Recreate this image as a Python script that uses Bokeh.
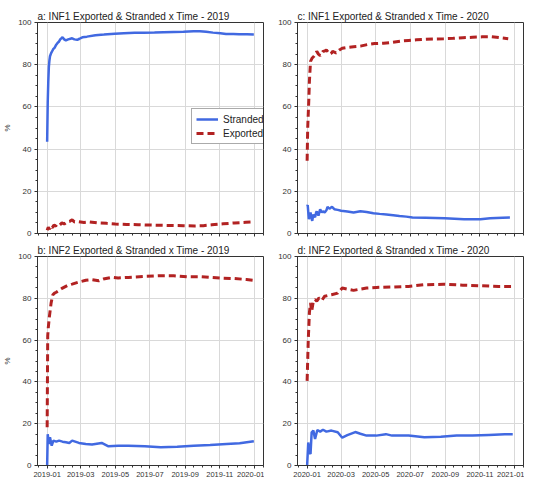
import pandas as pd
from bokeh.plotting import figure
from bokeh.layouts import column, row
from bokeh.models import (Range1d, FixedTicker, SingleIntervalTicker,
                          DatetimeTickFormatter, CustomJSTickFormatter,
                          Legend, LegendItem)
from bokeh.embed import file_html
from bokeh.resources import INLINE

FONT = "Liberation Sans"
BLUE = "royalblue"
RED = "firebrick"

# ---------------- data (day offset from Jan 1 of the year, percent) -------------
# a: INF1 2019
a_str_days = [0, 1, 2, 3, 4, 5, 7, 9, 11, 13, 16, 18, 21, 23, 25, 27, 30, 33, 37, 41,
              44, 48, 53, 57, 62, 70, 85, 100, 119, 135, 154, 170, 189, 205, 223, 240,
              258, 269, 280, 292, 305, 315, 328, 338, 352, 364]
a_str_vals = [43.5, 62, 72, 79, 82, 84, 85.5, 86.5, 87.5, 88, 89.5, 90.2, 91, 92, 92.5,
              93, 92, 91.5, 92, 92.3, 92.5, 92, 91.8, 92.3, 93, 93.3, 94, 94.3, 94.7,
              94.9, 95.1, 95.2, 95.3, 95.4, 95.5, 95.6, 95.8, 95.8, 95.6, 95.2, 94.9,
              94.6, 94.5, 94.4, 94.4, 94.3]
a_exp_days = [0, 2, 4, 6, 9, 12, 15, 18, 22, 26, 30, 35, 40, 44, 48, 55, 65, 75, 90,
              105, 120, 140, 160, 180, 200, 220, 240, 260, 275, 290, 310, 330, 350, 364]
a_exp_vals = [1.5, 3, 2, 3.5, 2.8, 4, 3.5, 4.5, 4, 5, 4.5, 5.5, 5.8, 6.5, 5.5, 5.6, 5.2,
              5.5, 5.0, 4.8, 4.5, 4.3, 4.2, 4.0, 3.9, 3.8, 3.7, 3.6, 3.7, 4.1, 4.6, 5.0,
              5.3, 5.5]

# c: INF1 2020
c_str_days = [0, 1, 3, 5, 6, 8, 9, 11, 12, 14, 16, 17, 20, 22, 23, 26, 28, 31, 34, 36,
              38, 40, 42, 44, 48, 54, 60, 71, 82, 94, 105, 117, 128, 140, 152, 163, 175,
              186, 209, 243, 277, 306, 323, 345, 358]
c_str_vals = [13, 13.5, 6.8, 9, 10, 7, 6, 9, 8.5, 7.7, 10, 10.5, 8.5, 10.5, 11.5, 10,
              10.5, 10, 11, 12.6, 12, 11.8, 12.3, 12.6, 11.5, 11.2, 10.8, 10.4, 10, 10.5,
              10.2, 9.6, 9.3, 9, 8.7, 8.3, 8, 7.6, 7.5, 7.2, 6.8, 6.8, 7.2, 7.5, 7.6]
c_exp_days = [0, 1, 3, 4, 6, 9, 12, 14, 17, 20, 23, 26, 28, 31, 34, 37, 40, 43, 45, 48,
              51, 54, 57, 62, 71, 82, 94, 106, 119, 135, 150, 165, 179, 193, 207, 224,
              241, 258, 275, 292, 309, 326, 343, 355]
c_exp_vals = [34.5, 50, 63.5, 72, 81.6, 83.2, 84, 84.7, 86.3, 85, 84.3, 85.5, 86.3, 86.5,
              87, 86, 85, 85.5, 86.3, 86, 85.5, 86.3, 87, 87.8, 88.2, 88.5, 88.8, 89.5,
              90, 90.2, 90.6, 91.2, 91.5, 91.8, 92, 92.2, 92.3, 92.5, 92.8, 93, 93.2,
              93.2, 92.7, 92.3]

# b: INF2 2019
b_str_days = [0, 1, 3, 5, 8, 11, 16, 21, 27, 33, 39, 44, 56, 68, 79, 96, 108, 125, 143,
              172, 200, 229, 258, 287, 316, 339, 364]
b_str_vals = [0, 15, 10.3, 13.5, 9.5, 11.9, 11.4, 11.9, 11.4, 11.1, 10.8, 11.9, 10.8,
              10.3, 10, 10.8, 9.2, 9.5, 9.5, 9.2, 8.7, 9, 9.5, 9.8, 10.3, 10.6, 11.6]
b_exp_days = [0, 1, 2, 4, 7, 10, 13, 16, 21, 27, 36, 44, 56, 68, 79, 91, 99, 114, 125,
              143, 172, 200, 223, 247, 270, 304, 327, 351, 364]
b_exp_vals = [18.3, 62, 66, 71.4, 77.8, 81.7, 82.5, 82.9, 83.8, 84.9, 86.2, 86.8, 87.8,
              88.6, 88.9, 88.4, 89.2, 90, 89.7, 90, 90.5, 90.8, 90.8, 90.3, 90.3, 89.7,
              89.5, 89, 88.6]

# d: INF2 2020
d_str_days = [0, 2, 4, 6, 8, 11, 14, 18, 23, 28, 34, 43, 54, 62, 71, 85, 94, 105, 122,
              139, 150, 179, 207, 236, 264, 292, 321, 349, 363]
d_str_vals = [0, 11, 6.3, 5.5, 15.9, 16.7, 12.7, 17, 16.2, 17.1, 16.2, 16.7, 15.9, 13.3,
              14.5, 16, 15.2, 14.3, 14.3, 15, 14.3, 14.3, 13.5, 13.8, 14.3, 14.3, 14.6,
              14.9, 14.9]
d_exp_days = [0, 2, 4, 6, 8, 11, 14, 17, 21, 26, 31, 43, 54, 62, 71, 82, 94, 105, 122,
              150, 179, 207, 241, 275, 309, 338, 360]
d_exp_vals = [40.5, 60, 73, 77.8, 73.8, 78.6, 79.4, 78.6, 80.2, 79, 81, 81.7, 82.5, 84.9,
              84.4, 83.8, 84.4, 84.9, 85.2, 85.4, 85.7, 86.5, 86.7, 86.3, 86, 85.7, 85.7]

# tick months (every two months, plus next January)
tick_months = ["01", "03", "05", "07", "09", "11"]

titles = {
    "a": "a: INF1 Exported & Stranded x Time - 2019",
    "b": "b: INF2 Exported & Stranded x Time - 2019",
    "c": "c: INF1 Exported & Stranded x Time - 2020",
    "d": "d: INF2 Exported & Stranded x Time - 2020",
}


def ms(ts):
    return ts.value // 10**6


def make_panel(title, year, str_days, str_vals, exp_days, exp_vals, width, height,
               border_top, border_bottom, show_xlabels, show_ylabel, legend=False):
    base = pd.Timestamp(f"{year}-01-01")
    nxt = pd.Timestamp(f"{year + 1}-01-01")
    x0 = base - pd.Timedelta(days=17)
    x1 = nxt + pd.Timedelta(days=16)
    p = figure(width=width, height=height, x_axis_type="datetime",
               x_range=Range1d(x0, x1), y_range=Range1d(0, 100),
               output_backend="svg", toolbar_location=None,
               min_border_left=33, min_border_right=1,
               min_border_top=border_top, min_border_bottom=border_bottom)
    p.title.text = title
    p.title.text_font = FONT
    p.title.text_font_size = "10px"
    p.title.text_font_style = "normal"
    p.title.text_color = "#222222"
    p.title.standoff = 2
    p.title.offset = 0

    xs = [base + pd.Timedelta(days=d) for d in str_days]
    xe = [base + pd.Timedelta(days=d) for d in exp_days]
    r_str = p.line(xs, str_vals, line_color=BLUE, line_width=2.5)
    r_exp = p.line(xe, exp_vals, line_color=RED, line_width=3, line_dash="7 4")

    majors = [pd.Timestamp(f"{year}-{m}-01") for m in tick_months] + [nxt]
    major_ms = [ms(t) for t in majors]
    minor_ms = []
    for a, b in zip(major_ms[:-1], major_ms[1:]):
        step = (b - a) / 4
        minor_ms += [a + k * step for k in range(1, 4)]
    minor_ms += [major_ms[0] - (major_ms[1] - major_ms[0]) / 4]
    minor_ms += [major_ms[-1] + (major_ms[-1] - major_ms[-2]) / 4]

    xa = p.xaxis[0]
    xa.ticker = FixedTicker(ticks=major_ms, minor_ticks=minor_ms)
    if show_xlabels:
        fmt = "%Y-%m"
        xa.formatter = DatetimeTickFormatter(months=fmt, days=fmt, years=fmt, hours=fmt)
    else:
        xa.formatter = CustomJSTickFormatter(code="return ''")
    xa.major_tick_out = 3
    xa.major_tick_in = 0
    xa.minor_tick_out = 2
    xa.minor_tick_in = 0
    xa.major_label_standoff = 3
    xa.major_label_text_font = FONT
    xa.major_label_text_color = "#333333"
    xa.major_label_text_font_size = "7.5px"
    xa.axis_line_color = "#333333"
    xa.major_tick_line_color = "#333333"
    xa.minor_tick_line_color = "#333333"

    ya = p.yaxis[0]
    ya.ticker = SingleIntervalTicker(interval=20, num_minor_ticks=4)
    ya.major_tick_out = 3
    ya.major_tick_in = 0
    ya.minor_tick_out = 2
    ya.minor_tick_in = 0
    ya.major_label_standoff = 3
    ya.major_label_text_font = FONT
    ya.major_label_text_color = "#333333"
    ya.major_label_text_font_size = "8px"
    ya.axis_line_color = "#333333"
    ya.major_tick_line_color = "#333333"
    ya.minor_tick_line_color = "#333333"
    if show_ylabel:
        ya.axis_label = "%"
        ya.axis_label_text_font = FONT
        ya.axis_label_text_font_size = "8px"
        ya.axis_label_text_font_style = "normal"
        ya.axis_label_standoff = 3
        ya.axis_label_text_color = "#333333"

    p.outline_line_color = "#333333"
    p.outline_line_width = 1
    p.xgrid.grid_line_color = "#d9d9d9"
    p.ygrid.grid_line_color = "#d9d9d9"
    p.background_fill_color = "white"
    p.border_fill_color = "white"

    if legend:
        leg = Legend(items=[LegendItem(label="Stranded", renderers=[r_str]),
                            LegendItem(label="Exported", renderers=[r_exp])],
                     location=(154, 89))
        leg.label_text_font = FONT
        leg.label_text_font_size = "10px"
        leg.label_text_color = "#222222"
        leg.glyph_width = 22
        leg.glyph_height = 12
        leg.label_height = 12
        leg.label_standoff = 5
        leg.padding = 4
        leg.spacing = 2
        leg.margin = 0
        leg.border_line_color = "#555555"
        leg.background_fill_alpha = 1
        p.add_layout(leg)
    return p


pa = make_panel(titles["a"], 2019, a_str_days, a_str_vals, a_exp_days, a_exp_vals,
                264, 241, 22, 8, False, True, legend=True)
pc = make_panel(titles["c"], 2020, c_str_days, c_str_vals, c_exp_days, c_exp_vals,
                260, 241, 22, 8, False, False)
pb = make_panel(titles["b"], 2019, b_str_days, b_str_vals, b_exp_days, b_exp_vals,
                264, 238, 14, 14, True, True)
pd_ = make_panel(titles["d"], 2020, d_str_days, d_str_vals, d_exp_days, d_exp_vals,
                 260, 238, 14, 14, True, False)

layout = column(row(pa, pc), row(pb, pd_))

with open("out.html", "w") as f:
    f.write(file_html(layout, INLINE, "Exported & Stranded"))
